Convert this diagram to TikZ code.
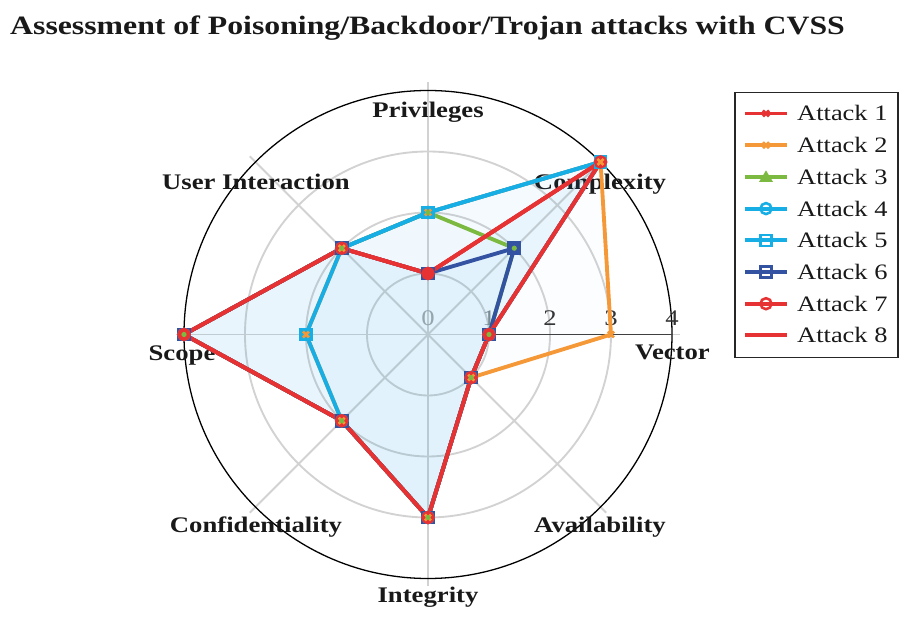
\documentclass[tikz,border=0pt]{standalone}
\usepackage{fontspec}
\setmainfont{Liberation Serif}[FakeStretch=1.2]
\usetikzlibrary{calc}
\definecolor{atkred}{RGB}{231,50,52}
\definecolor{atkorange}{RGB}{244,152,56}
\definecolor{atkgreen}{RGB}{124,185,64}
\definecolor{atkcyan}{RGB}{22,174,228}
\definecolor{atkblue}{RGB}{52,82,162}
\definecolor{gridgray}{RGB}{210,210,210}
\definecolor{areablue}{RGB}{60,170,235}
\tikzset{
	radar/.style={x=0.03cm, y=0.03cm},
	radar unit/.store in=\radunit,
	radar unit=61,
	grid line/.style={draw=gridgray, line width=1.6pt},
	series/.style={draw=#1, line width=3.3pt, line join=round},
	area/.style={fill=areablue, fill opacity=0.02},
	axis label/.style={font=\fontsize{19}{23}\selectfont\bfseries, text=black!90, anchor=base, inner sep=0pt},
	tick label/.style={font=\fontsize{19}{23}\selectfont, anchor=base, inner sep=0pt},
	chart title/.style={font=\fontsize{22.6}{27}\selectfont\bfseries, text=black!90, anchor=base west, inner sep=0pt},
	leg text/.style={font=\fontsize{18.8}{23}\selectfont, text=black!90, anchor=base west, inner sep=0pt},
	pics/sqmark/.style 2 args={code={\filldraw[draw=#1, fill=#2, line width=2.2pt] (-5.5,-5.5) rectangle (5.5,5.5);}},
	pics/cimark/.style 2 args={code={\filldraw[draw=#1, fill=#2, line width=2.2pt] (0,0) circle (5.5);}},
	pics/trimark/.style={code={\fill[#1] (-7,-5) -- (7,-5) -- (0,6.5) -- cycle;}},
	pics/xmark/.style={code={\draw[#1, line width=2.2pt] (-3,-3) -- (3,3) (-3,3) -- (3,-3);}},
	pics/dotmark/.style={code={\fill[#1] (0,0) circle (2.6);}}
}

\begin{document}
\begin{tikzpicture}[radar]
	\useasboundingbox (-428,-284.5) rectangle (483,334.5);
	\node[chart title] (title) at (-418,300) {Assessment of Poisoning/Backdoor/Trojan attacks with CVSS};

	\foreach \a in {0,45,...,315}
		\draw[grid line] (0,0) -- (\a:252);
	\foreach \r in {1,2,3}
		\draw[grid line] (0,0) circle (\r*\radunit);
	\draw[black, line width=1.1pt] (0,0) circle (4*\radunit);
	\draw[black!75, line width=1.2pt] (0:\radunit) -- (0:4*\radunit);
	\foreach \t/\c in {0/black!35,1/black!45,2/black!80,3/black!80,4/black!80}
		\node[tick label, text=\c] (tick\t) at (\t*\radunit,8.5) {\t};

	\node[axis label] (vector) at (244.5,-25) {Vector};
	\node[axis label] (complexity) at (172,144.5) {Complexity};
	\node[axis label] (privileges) at (0,216.5) {Privileges};
	\node[axis label] (interaction) at (-172,144.5) {User Interaction};
	\node[axis label] (scope) at (-246,-26) {Scope};
	\node[axis label] (confidentiality) at (-172,-198.5) {Confidentiality};
	\node[axis label] (integrity) at (0,-268.5) {Integrity};
	\node[axis label] (availability) at (172,-198.5) {Availability};

	\foreach \s/\vals in {1/{1,4,1,2,4,2,3,1}, 2/{3,4,2,2,2,2,3,1}, 3/{1,2,2,2,4,2,3,1},
			4/{1,4,2,2,4,2,3,1}, 5/{1,4,2,2,2,2,3,1}, 6/{1,2,1,2,4,2,3,1},
			7/{1,4,1,2,4,2,3,1}, 8/{1,4,1,2,4,2,3,1}}
		\foreach \v [count=\k from 0] in \vals
			\coordinate (a\s-\k) at (\k*45:\v*\radunit);

	\foreach \s in {1,...,8}
		\fill[area] (a\s-0) -- (a\s-1) -- (a\s-2) -- (a\s-3) -- (a\s-4) -- (a\s-5) -- (a\s-6) -- (a\s-7) -- cycle;
	\foreach \s/\c in {1/atkred,2/atkorange,3/atkgreen,4/atkcyan,5/atkcyan,6/atkblue,7/atkred,8/atkred}
		\draw[series=\c] (a\s-0) -- (a\s-1) -- (a\s-2) -- (a\s-3) -- (a\s-4) -- (a\s-5) -- (a\s-6) -- (a\s-7) -- cycle;
	\foreach \k in {0,...,7} {
		\pic at (a5-\k) {sqmark={atkcyan}{atkcyan}};
		\pic at (a6-\k) {sqmark={atkblue}{atkblue}};
		\pic at (a4-\k) {cimark={atkcyan}{atkcyan}};
		\pic at (a7-\k) {cimark={atkred}{atkred}};
		\pic at (a1-\k) {xmark=atkred};
		\pic at (a2-\k) {xmark=atkorange};
		\pic at (a3-\k) {dotmark=atkgreen};
	}

	\node[draw=black!85, line width=0.9pt, minimum width=4.89cm, minimum height=7.95cm, inner sep=0pt] (legend) at (388.5,109.5) {};
	\foreach \s [count=\i from 0] in {1,...,8}
		\coordinate (leg\s) at (338,221-31.7*\i);
	\pic at (leg1) {xmark=atkred};
	\pic at (leg2) {xmark=atkorange};
	\pic at (leg3) {trimark=atkgreen};
	\pic at (leg4) {cimark={atkcyan}{white}};
	\pic at (leg5) {sqmark={atkcyan}{white}};
	\pic at (leg6) {sqmark={atkblue}{white}};
	\pic at (leg7) {cimark={atkred}{white}};
	\foreach \s/\c in {1/atkred,2/atkorange,3/atkgreen,4/atkcyan,5/atkcyan,6/atkblue,7/atkred,8/atkred} {
		\draw[series=\c] ($(leg\s)+(-21,0)$) -- ($(leg\s)+(21,0)$);
		\node[leg text] (legtext\s) at ($(leg\s)+(31,-7.5)$) {Attack \s};
	}
\end{tikzpicture}
\end{document}
